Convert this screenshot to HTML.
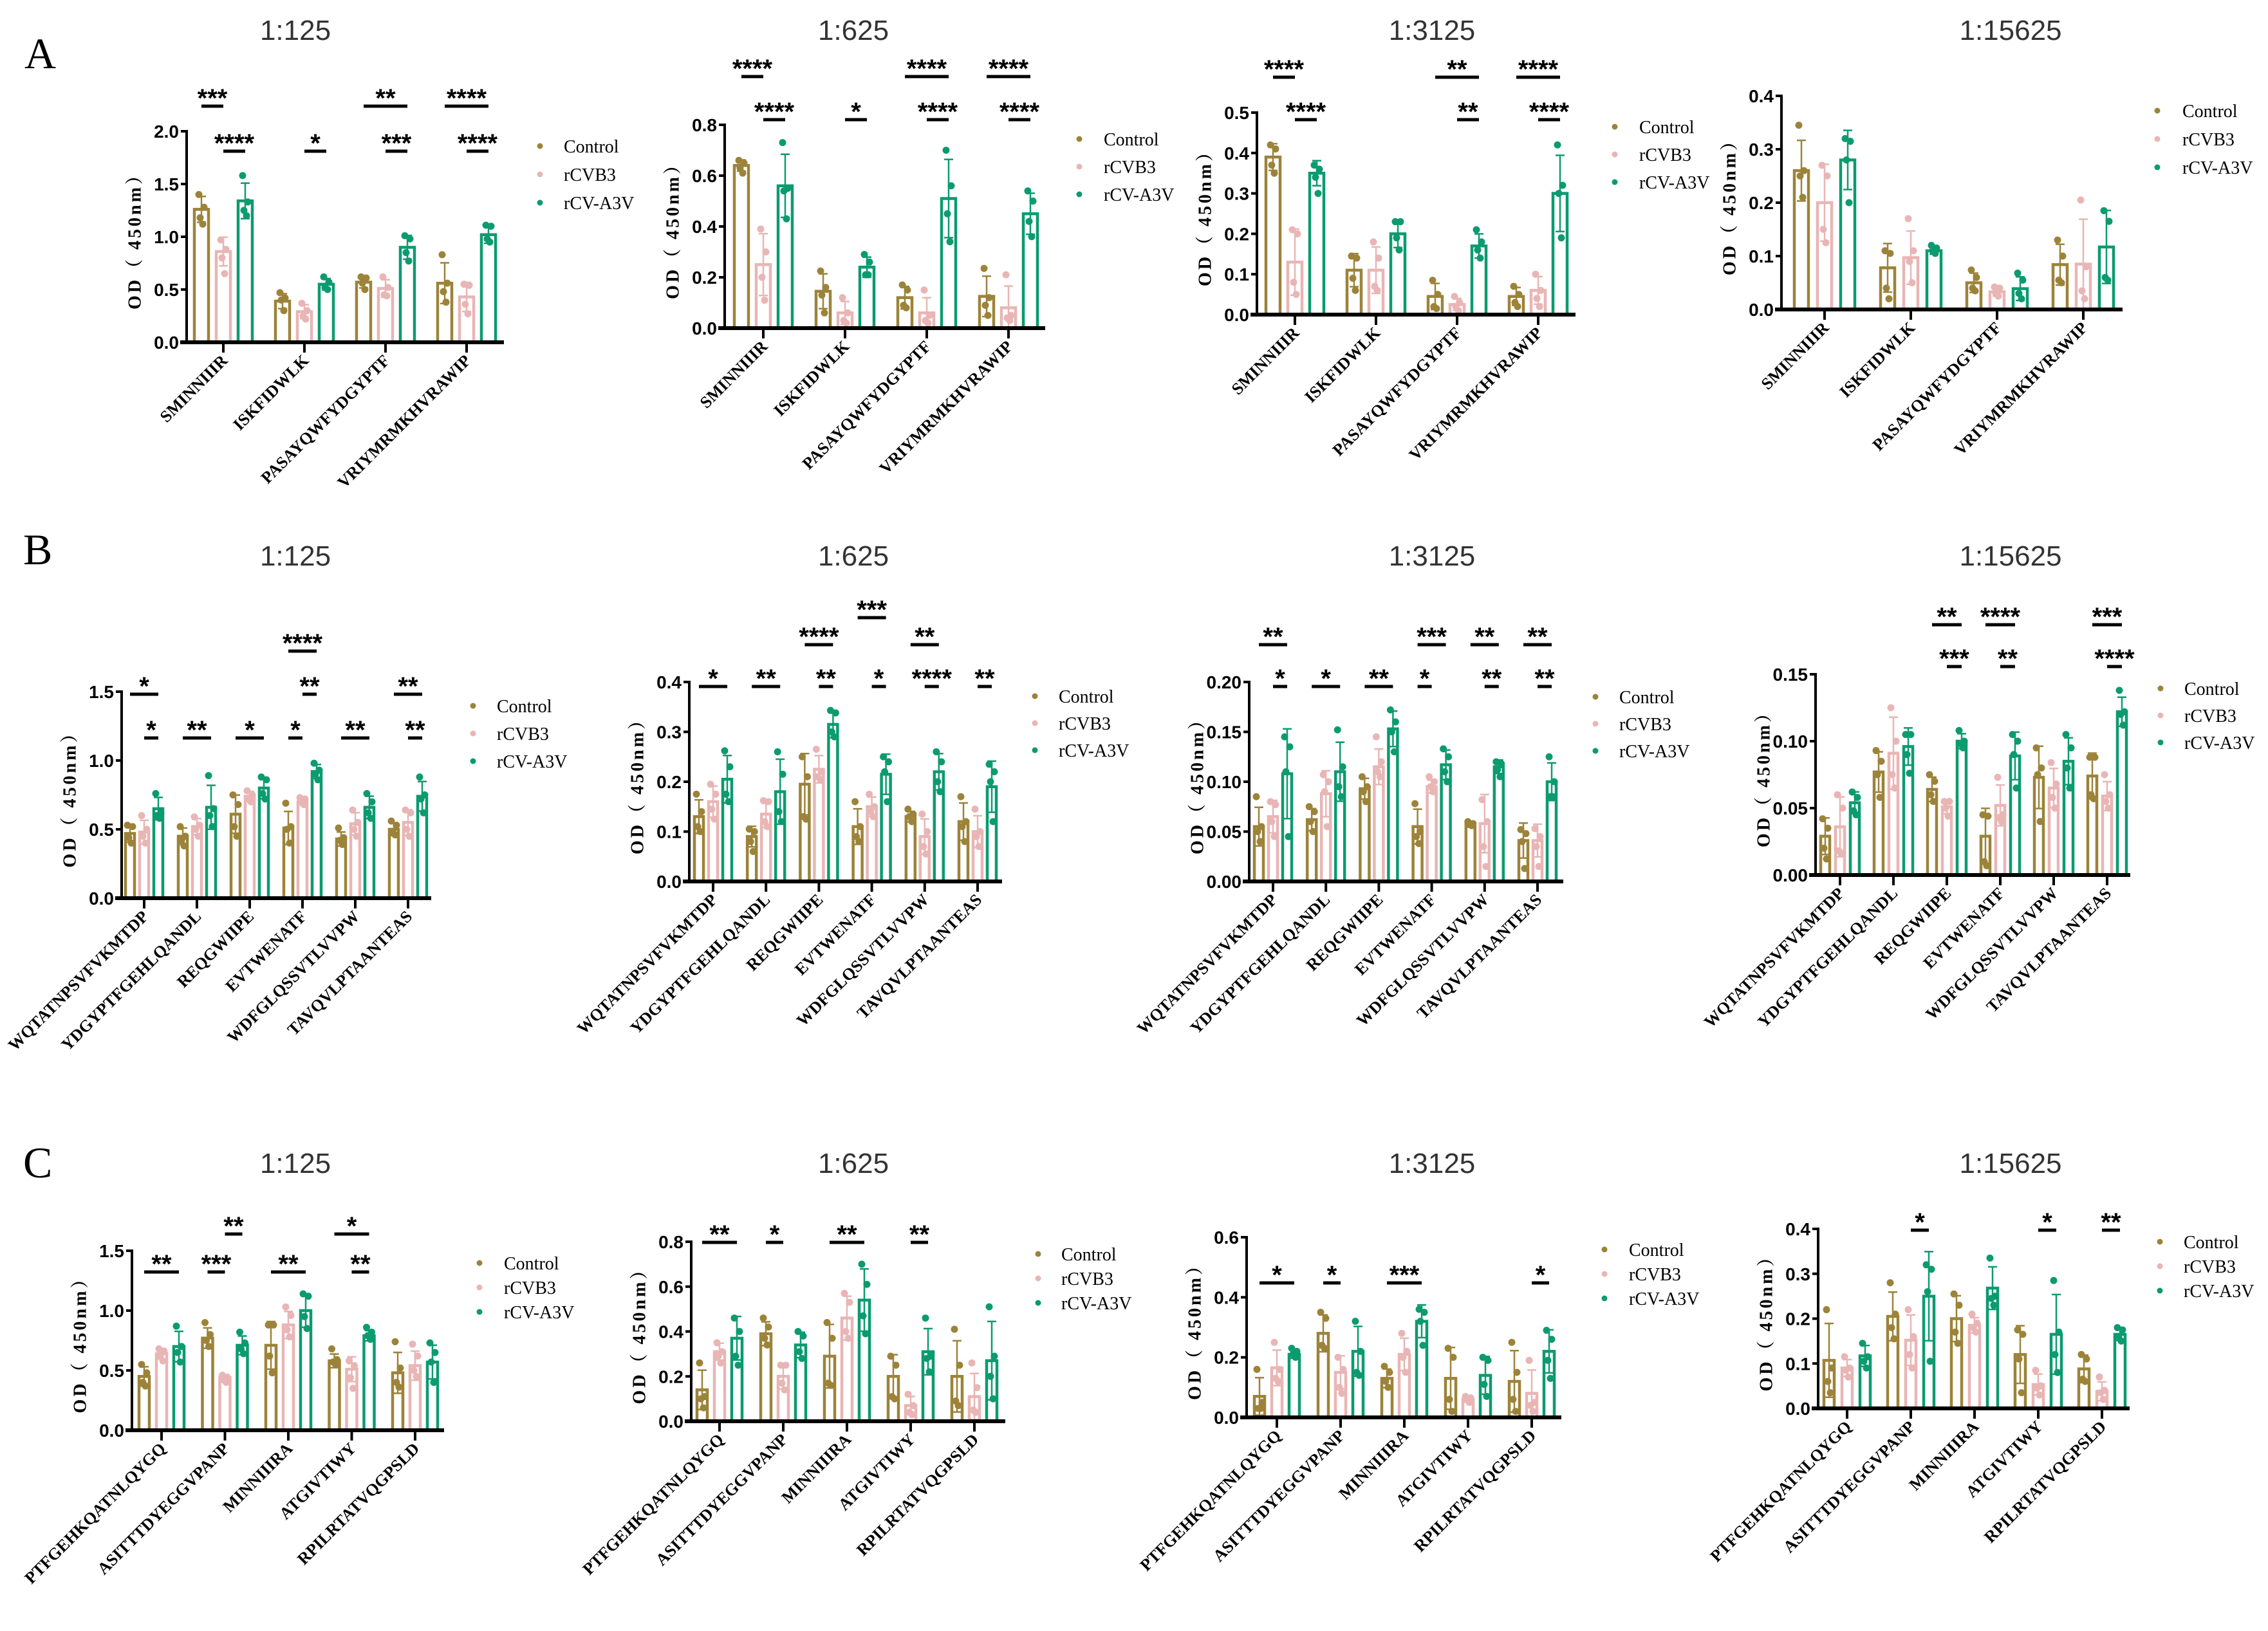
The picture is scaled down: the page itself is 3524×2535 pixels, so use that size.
<!DOCTYPE html>
<html><head><meta charset="utf-8">
<style>
html,body{margin:0;padding:0;background:#fff;}
svg{display:block;}
</style></head>
<body>
<svg id="fig" xmlns="http://www.w3.org/2000/svg" width="3524" height="2535" viewBox="0 0 3524 2535">
<rect x="0" y="0" width="3524" height="2535" fill="#fff"/>
<text x="38" y="106" font-family="Liberation Serif, serif" font-size="68">A</text>
<text x="36" y="877" font-family="Liberation Serif, serif" font-size="68">B</text>
<text x="36" y="1830" font-family="Liberation Serif, serif" font-size="68">C</text>
</svg>
<script>
// ---------- categories ----------
const catsA = ["SMINNIIIR","ISKFIDWLK","PASAYQWFYDGYPTF","VRIYMRMKHVRAWIP"];
const catsB = ["WQTATNPSVFVKMTDP","YDGYPTFGEHLQANDL","REQGWIIPE","EVTWENATF","WDFGLQSSVTLVVPW","TAVQVLPTAANTEAS"];
const catsC = ["PTFGEHKQATNLQYGQ","ASITTTDYEGGVPANP","MINNIIIRA","ATGIVTIWY","RPILRTATVQGPSLD"];
const dilutions = ["1:125","1:625","1:3125","1:15625"];
const seriesNames = ["Control","rCVB3","rCV-A3V"];

// ---------- A1 ----------
const a1Control=[1.26,0.39,0.57,0.56], a1Rcvb3=[0.86,0.29,0.51,0.43], a1A3v=[1.34,0.55,0.90,1.02];
const a1ControlPts=[[1.40,1.28,1.18,1.12],[0.47,0.42,0.40,0.30],[0.62,0.61,0.56,0.50],[0.83,0.56,0.48,0.38]];
const a1Rcvb3Pts=[[0.97,0.88,0.80,0.65],[0.37,0.30,0.25,0.22],[0.62,0.52,0.45,0.44],[0.55,0.54,0.36,0.27]];
const a1A3vPts=[[1.58,1.33,1.25,1.20],[0.62,0.57,0.52,0.50],[1.01,0.98,0.85,0.77],[1.11,1.10,0.98,0.95]];
const a1Ticks=[0,0.5,1.0,1.5,2.0];
const a1Sig=[[0,0,1,0,"***"],[0,1,2,1,"****"],[1,1,2,1,"*"],[2,0,2,0,"**"],[2,1,2,1,"***"],[3,0,2,0,"****"],[3,1,2,1,"****"]];
// ---------- A2 ----------
const a2Control=[0.64,0.145,0.12,0.125], a2Rcvb3=[0.25,0.06,0.06,0.08], a2A3v=[0.56,0.24,0.51,0.45];
const a2ControlPts=[[0.66,0.65,0.63,0.61],[0.225,0.16,0.13,0.06],[0.17,0.15,0.09,0.08],[0.235,0.12,0.09,0.05]];
const a2Rcvb3Pts=[[0.39,0.30,0.20,0.11],[0.12,0.06,0.03,0.02],[0.15,0.05,0.03,0.02],[0.21,0.05,0.04,0.03]];
const a2A3vPts=[[0.73,0.55,0.54,0.43],[0.29,0.26,0.21,0.21],[0.70,0.56,0.45,0.34],[0.54,0.50,0.42,0.36]];
const a2Ticks=[0,0.2,0.4,0.6,0.8];
const a2Sig=[[0,0,1,0,"****"],[0,1,2,1,"****"],[1,1,2,1,"*"],[2,0,2,0,"****"],[2,1,2,1,"****"],[3,0,2,0,"****"],[3,1,2,1,"****"]];
// ---------- A3 ----------
const a3Control=[0.39,0.11,0.045,0.045], a3Rcvb3=[0.13,0.11,0.025,0.06], a3A3v=[0.35,0.20,0.17,0.30];
const a3ControlPts=[[0.42,0.41,0.37,0.35],[0.145,0.14,0.09,0.06],[0.085,0.05,0.02,0.015],[0.07,0.05,0.03,0.02]];
const a3Rcvb3Pts=[[0.21,0.20,0.08,0.05],[0.18,0.14,0.07,0.06],[0.045,0.03,0.02,0.01],[0.10,0.06,0.04,0.02]];
const a3A3vPts=[[0.37,0.36,0.34,0.30],[0.23,0.23,0.19,0.16],[0.21,0.18,0.16,0.14],[0.42,0.32,0.30,0.19]];
const a3Ticks=[0,0.1,0.2,0.3,0.4,0.5];
const a3Sig=[[0,0,1,0,"****"],[0,1,2,1,"****"],[2,0,2,0,"**"],[2,1,2,1,"**"],[3,0,2,0,"****"],[3,1,2,1,"****"]];
// ---------- A4 ----------
const a4Control=[0.26,0.078,0.05,0.084], a4Rcvb3=[0.20,0.097,0.033,0.085], a4A3v=[0.28,0.11,0.039,0.117];
const a4ControlPts=[[0.345,0.26,0.25,0.21],[0.11,0.105,0.04,0.02],[0.074,0.06,0.04,0.035],[0.13,0.10,0.055,0.05]];
const a4Rcvb3Pts=[[0.27,0.25,0.15,0.125],[0.17,0.11,0.09,0.05],[0.042,0.04,0.03,0.025],[0.205,0.08,0.035,0.02]];
const a4A3vPts=[[0.32,0.315,0.28,0.20],[0.12,0.115,0.11,0.105],[0.068,0.055,0.03,0.02],[0.185,0.165,0.06,0.055]];
const a4Ticks=[0,0.1,0.2,0.3,0.4];
const a4Sig=[];
// ---------- B1 ----------
const b1Control=[0.47,0.45,0.61,0.51,0.43,0.50], b1Rcvb3=[0.48,0.52,0.74,0.70,0.54,0.55], b1A3v=[0.65,0.66,0.80,0.92,0.66,0.74];
const b1ControlPts=[[0.53,0.52,0.44,0.40],[0.52,0.45,0.42,0.38],[0.75,0.68,0.52,0.45],[0.69,0.52,0.50,0.40],[0.51,0.44,0.42,0.39],[0.56,0.53,0.48,0.46]];
const b1Rcvb3Pts=[[0.60,0.50,0.45,0.40],[0.59,0.53,0.50,0.45],[0.78,0.75,0.72,0.70],[0.73,0.72,0.70,0.68],[0.64,0.55,0.50,0.45],[0.64,0.62,0.50,0.45]];
const b1A3vPts=[[0.76,0.62,0.60,0.58],[0.89,0.65,0.60,0.52],[0.88,0.86,0.76,0.72],[0.98,0.93,0.90,0.86],[0.76,0.70,0.62,0.58],[0.88,0.75,0.72,0.62]];
const b1Ticks=[0,0.5,1.0,1.5];
const b1Sig=[[3,0,2,0,"****"],[0,0,2,1,"*"],[3,1,2,1,"**"],[5,0,2,1,"**"],[0,1,2,2,"*"],[1,0,2,2,"**"],[2,0,2,2,"*"],[3,0,1,2,"*"],[4,0,2,2,"**"],[5,1,2,2,"**"]];
// ---------- B2 ----------
const b2Control=[0.13,0.09,0.195,0.11,0.13,0.12], b2Rcvb3=[0.16,0.135,0.225,0.15,0.09,0.10], b2A3v=[0.205,0.18,0.315,0.215,0.22,0.19];
const b2ControlPts=[[0.175,0.14,0.11,0.10],[0.105,0.10,0.08,0.06],[0.25,0.21,0.13,0.125],[0.16,0.11,0.09,0.08],[0.145,0.135,0.13,0.12],[0.17,0.12,0.11,0.08]];
const b2Rcvb3Pts=[[0.195,0.175,0.145,0.125],[0.162,0.16,0.12,0.11],[0.265,0.22,0.21,0.205],[0.175,0.15,0.14,0.13],[0.135,0.10,0.07,0.055],[0.145,0.10,0.09,0.07]];
const b2A3vPts=[[0.262,0.23,0.175,0.16],[0.26,0.215,0.14,0.12],[0.343,0.338,0.30,0.29],[0.25,0.24,0.22,0.16],[0.26,0.24,0.20,0.18],[0.235,0.22,0.20,0.12]];
const b2Ticks=[0,0.1,0.2,0.3,0.4];
const b2Sig=[[3,0,2,0,"***"],[2,0,2,1,"****"],[4,0,2,1,"**"],[0,0,2,2,"*"],[1,0,2,2,"**"],[2,1,2,2,"**"],[3,1,2,2,"*"],[4,1,2,2,"****"],[5,1,2,2,"**"]];
// ---------- B3 ----------
const b3Control=[0.055,0.062,0.093,0.055,0.058,0.041], b3Rcvb3=[0.065,0.088,0.115,0.095,0.058,0.041], b3A3v=[0.108,0.11,0.153,0.117,0.115,0.10];
const b3ControlPts=[[0.085,0.055,0.05,0.04],[0.075,0.07,0.06,0.05],[0.105,0.095,0.09,0.08],[0.078,0.05,0.045,0.038],[0.06,0.058,0.057,0.056],[0.052,0.048,0.04,0.013]];
const b3Rcvb3Pts=[[0.08,0.077,0.06,0.045],[0.107,0.10,0.09,0.055],[0.145,0.12,0.11,0.105],[0.105,0.10,0.095,0.09],[0.082,0.06,0.035,0.015],[0.053,0.045,0.035,0.015]];
const b3A3vPts=[[0.145,0.135,0.11,0.045],[0.152,0.115,0.095,0.085],[0.172,0.16,0.15,0.13],[0.133,0.125,0.11,0.10],[0.12,0.118,0.112,0.105],[0.125,0.10,0.085,0.085]];
const b3Ticks=[0,0.05,0.10,0.15,0.20];
const b3Sig=[[0,0,2,0,"**"],[3,0,2,0,"***"],[4,0,2,0,"**"],[5,0,2,0,"**"],[0,1,2,1,"*"],[1,0,2,1,"*"],[2,0,2,1,"**"],[3,0,1,1,"*"],[4,1,2,1,"**"],[5,1,2,1,"**"]];
// ---------- B4 ----------
const b4Control=[0.029,0.077,0.064,0.029,0.073,0.074], b4Rcvb3=[0.036,0.091,0.051,0.052,0.065,0.059], b4A3v=[0.054,0.096,0.10,0.089,0.085,0.122];
const b4ControlPts=[[0.042,0.035,0.02,0.012],[0.093,0.085,0.075,0.058],[0.075,0.07,0.06,0.055],[0.045,0.044,0.01,0.007],[0.095,0.08,0.075,0.04],[0.088,0.088,0.06,0.057]];
const b4Rcvb3Pts=[[0.06,0.05,0.018,0.016],[0.125,0.10,0.075,0.065],[0.055,0.055,0.05,0.044],[0.073,0.045,0.043,0.04],[0.084,0.068,0.058,0.05],[0.075,0.06,0.055,0.05]];
const b4A3vPts=[[0.062,0.058,0.048,0.045],[0.105,0.105,0.09,0.076],[0.108,0.10,0.098,0.095],[0.105,0.10,0.09,0.065],[0.105,0.095,0.08,0.065],[0.138,0.122,0.12,0.112]];
const b4Ticks=[0,0.05,0.10,0.15];
const b4Sig=[[2,0,2,0,"**"],[3,0,2,0,"****"],[5,0,2,0,"***"],[2,1,2,1,"***"],[3,1,2,1,"**"],[5,1,2,1,"****"]];
// ---------- C1 ----------
const c1Control=[0.45,0.77,0.71,0.58,0.48], c1Rcvb3=[0.64,0.44,0.88,0.51,0.54], c1A3v=[0.70,0.71,1.00,0.79,0.57];
const c1ControlPts=[[0.55,0.48,0.40,0.37],[0.90,0.80,0.75,0.70],[0.88,0.88,0.62,0.48],[0.68,0.59,0.57,0.55],[0.74,0.52,0.40,0.36]];
const c1Rcvb3Pts=[[0.68,0.66,0.62,0.58],[0.46,0.44,0.42,0.40],[1.03,0.96,0.84,0.78],[0.58,0.54,0.44,0.35],[0.72,0.62,0.50,0.45]];
const c1A3vPts=[[0.87,0.70,0.65,0.57],[0.82,0.73,0.68,0.64],[1.14,1.12,0.95,0.85],[0.86,0.82,0.79,0.76],[0.73,0.65,0.57,0.40]];
const c1Ticks=[0,0.5,1.0,1.5];
const c1Sig=[[1,1,2,0,"**"],[3,0,2,0,"*"],[0,0,2,1,"**"],[1,0,1,1,"***"],[2,0,2,1,"**"],[3,1,2,1,"**"]];
// ---------- C2 ----------
const c2Control=[0.14,0.39,0.29,0.20,0.20], c2Rcvb3=[0.31,0.20,0.46,0.07,0.11], c2A3v=[0.37,0.34,0.54,0.31,0.27];
const c2ControlPts=[[0.26,0.11,0.10,0.06],[0.46,0.42,0.37,0.34],[0.44,0.37,0.17,0.16],[0.29,0.25,0.11,0.10],[0.41,0.25,0.09,0.07]];
const c2Rcvb3Pts=[[0.35,0.31,0.29,0.26],[0.25,0.25,0.17,0.14],[0.57,0.53,0.40,0.37],[0.12,0.07,0.04,0.03],[0.26,0.15,0.05,0.04]];
const c2A3vPts=[[0.46,0.40,0.29,0.25],[0.40,0.38,0.31,0.28],[0.70,0.61,0.47,0.39],[0.46,0.29,0.28,0.22],[0.51,0.29,0.20,0.10]];
const c2Ticks=[0,0.2,0.4,0.6,0.8];
const c2Sig=[[0,0,2,0,"**"],[1,0,1,0,"*"],[2,0,2,0,"**"],[3,1,2,0,"**"]];
// ---------- C3 ----------
const c3Control=[0.07,0.28,0.13,0.13,0.12], c3Rcvb3=[0.165,0.15,0.21,0.06,0.08], c3A3v=[0.21,0.22,0.32,0.14,0.22];
const c3ControlPts=[[0.16,0.05,0.03,0.03],[0.35,0.33,0.24,0.23],[0.17,0.15,0.12,0.10],[0.23,0.20,0.06,0.02],[0.25,0.15,0.06,0.02]];
const c3Rcvb3Pts=[[0.25,0.16,0.13,0.12],[0.20,0.16,0.10,0.08],[0.28,0.22,0.20,0.15],[0.07,0.065,0.06,0.05],[0.19,0.05,0.04,0.02]];
const c3A3vPts=[[0.23,0.22,0.21,0.20],[0.32,0.22,0.15,0.14],[0.36,0.35,0.32,0.24],[0.20,0.19,0.11,0.07],[0.29,0.26,0.19,0.13]];
const c3Ticks=[0,0.2,0.4,0.6];
const c3Sig=[[0,0,2,0,"*"],[1,0,1,0,"*"],[2,0,2,0,"***"],[4,1,2,0,"*"]];
// ---------- C4 ----------
const c4Control=[0.107,0.205,0.20,0.12,0.088], c4Rcvb3=[0.09,0.152,0.185,0.053,0.038], c4A3v=[0.117,0.25,0.268,0.165,0.165];
const c4ControlPts=[[0.22,0.09,0.06,0.035],[0.28,0.21,0.18,0.155],[0.255,0.23,0.17,0.145],[0.175,0.165,0.11,0.035],[0.12,0.11,0.065,0.06]];
const c4Rcvb3Pts=[[0.115,0.09,0.085,0.07],[0.22,0.16,0.12,0.09],[0.21,0.19,0.18,0.17],[0.085,0.05,0.045,0.03],[0.07,0.04,0.035,0.02]];
const c4A3vPts=[[0.145,0.115,0.105,0.09],[0.32,0.31,0.26,0.105],[0.335,0.25,0.245,0.23],[0.285,0.17,0.12,0.08],[0.18,0.175,0.16,0.15]];
const c4Ticks=[0,0.1,0.2,0.3,0.4];
const c4Sig=[[1,1,2,0,"*"],[3,1,2,0,"*"],[4,1,2,0,"**"]];

// ---------- layout (pixel geometry, not data) ----------
const COLORS=["#9c8339","#e9b5b5","#0b9b6f"];
const svg=document.getElementById('fig');
const NS="http://www.w3.org/2000/svg";
function mk(tag,attrs,parent){const e=document.createElementNS(NS,tag);for(const k in attrs)e.setAttribute(k,attrs[k]);(parent||svg).appendChild(e);return e;}
function sd(a){const m=a.reduce((s,v)=>s+v,0)/a.length;return Math.sqrt(a.reduce((s,v)=>s+(v-m)*(v-m),0)/(a.length-1));}

const TX=[459,1326,2225,3124];
const panels=[
 {id:"a1",cats:catsA,means:[a1Control,a1Rcvb3,a1A3v],pts:[a1ControlPts,a1Rcvb3Pts,a1A3vPts],ticks:a1Ticks,sig:a1Sig,dec:1,title:dilutions[0],
  ax:290,yTop:204,y0:532,xEnd:783,gx0:347,gs:126,off:34,bw:22,rows:[165,235],leg:[839,876,227,44],tx:TX[0],ty:62},
 {id:"a2",cats:catsA,means:[a2Control,a2Rcvb3,a2A3v],pts:[a2ControlPts,a2Rcvb3Pts,a2A3vPts],ticks:a2Ticks,sig:a2Sig,dec:1,title:dilutions[1],
  ax:1126,yTop:194,y0:510,xEnd:1624,gx0:1186,gs:127,off:34,bw:22,rows:[119,186],leg:[1677,1715,216,43],tx:TX[1],ty:62},
 {id:"a3",cats:catsA,means:[a3Control,a3Rcvb3,a3A3v],pts:[a3ControlPts,a3Rcvb3Pts,a3A3vPts],ticks:a3Ticks,sig:a3Sig,dec:1,title:dilutions[2],
  ax:1953,yTop:175,y0:489,xEnd:2448,gx0:2012,gs:126,off:34,bw:22,rows:[120,186],leg:[2509,2547,197,43],tx:TX[2],ty:62},
 {id:"a4",cats:catsA,means:[a4Control,a4Rcvb3,a4A3v],pts:[a4ControlPts,a4Rcvb3Pts,a4A3vPts],ticks:a4Ticks,sig:a4Sig,dec:1,title:dilutions[3],
  ax:2768,yTop:149,y0:481,xEnd:3298,gx0:2835,gs:134,off:36,bw:22,rows:[],leg:[3352,3391,172,44],tx:TX[3],ty:62},
 {id:"b1",cats:catsB,means:[b1Control,b1Rcvb3,b1A3v],pts:[b1ControlPts,b1Rcvb3Pts,b1A3vPts],ticks:b1Ticks,sig:b1Sig,dec:1,title:dilutions[0],
  ax:189,yTop:1075,y0:1396,xEnd:670,gx0:224,gs:82,off:22,bw:14,rows:[1012,1079,1147],leg:[735,772,1097,43],tx:TX[0],ty:879},
 {id:"b2",cats:catsB,means:[b2Control,b2Rcvb3,b2A3v],pts:[b2ControlPts,b2Rcvb3Pts,b2A3vPts],ticks:b2Ticks,sig:b2Sig,dec:1,title:dilutions[1],
  ax:1071,yTop:1060,y0:1370,xEnd:1557,gx0:1108,gs:82.2,off:22,bw:14,rows:[960,1002,1067],leg:[1608,1645,1082,42],tx:TX[1],ty:879},
 {id:"b3",cats:catsB,means:[b3Control,b3Rcvb3,b3A3v],pts:[b3ControlPts,b3Rcvb3Pts,b3A3vPts],ticks:b3Ticks,sig:b3Sig,dec:2,title:dilutions[2],
  ax:1941,yTop:1060,y0:1370,xEnd:2429,gx0:1978,gs:82.2,off:22,bw:14,rows:[1002,1067],leg:[2479,2516,1083,42],tx:TX[2],ty:879},
 {id:"b4",cats:catsB,means:[b4Control,b4Rcvb3,b4A3v],pts:[b4ControlPts,b4Rcvb3Pts,b4A3vPts],ticks:b4Ticks,sig:b4Sig,dec:2,title:dilutions[3],
  ax:2821,yTop:1048,y0:1360,xEnd:3310,gx0:2859,gs:83,off:23,bw:14,rows:[971,1036],leg:[3357,3394,1070,42],tx:TX[3],ty:879},
 {id:"c1",cats:catsC,means:[c1Control,c1Rcvb3,c1A3v],pts:[c1ControlPts,c1Rcvb3Pts,c1A3vPts],ticks:c1Ticks,sig:c1Sig,dec:1,title:dilutions[0],
  ax:205,yTop:1944,y0:2223,xEnd:690,gx0:251,gs:98.5,off:27,bw:16,rows:[1918,1977],leg:[745,783,1963,38],tx:TX[0],ty:1823},
 {id:"c2",cats:catsC,means:[c2Control,c2Rcvb3,c2A3v],pts:[c2ControlPts,c2Rcvb3Pts,c2A3vPts],ticks:c2Ticks,sig:c2Sig,dec:1,title:dilutions[1],
  ax:1074,yTop:1930,y0:2209,xEnd:1562,gx0:1118,gs:99,off:27,bw:16,rows:[1931],leg:[1613,1649,1949,38],tx:TX[1],ty:1823},
 {id:"c3",cats:catsC,means:[c3Control,c3Rcvb3,c3A3v],pts:[c3ControlPts,c3Rcvb3Pts,c3A3vPts],ticks:c3Ticks,sig:c3Sig,dec:1,title:dilutions[2],
  ax:1937,yTop:1923,y0:2203,xEnd:2426,gx0:1984,gs:99,off:27,bw:16,rows:[1994],leg:[2493,2531,1942,38],tx:TX[2],ty:1823},
 {id:"c4",cats:catsC,means:[c4Control,c4Rcvb3,c4A3v],pts:[c4ControlPts,c4Rcvb3Pts,c4A3vPts],ticks:c4Ticks,sig:c4Sig,dec:1,title:dilutions[3],
  ax:2825,yTop:1910,y0:2189,xEnd:3309,gx0:2870,gs:99,off:28,bw:16,rows:[1912],leg:[3356,3393,1930,38],tx:TX[3],ty:1823}
];

panels.forEach(p=>{
  const g=mk('g',{});
  
  
  const yMax=p.ticks[p.ticks.length-1];
  const Y=v=>p.y0-v/yMax*(p.y0-p.yTop);
  const GX=i=>p.gx0+i*p.gs;
  const BX=(i,s)=>GX(i)+(s-1)*p.off;
  const t=mk('text',{x:p.tx,y:p.ty,'text-anchor':'middle','font-family':'Liberation Sans, sans-serif','font-size':44,fill:'#333'},g);
  t.textContent=p.title;
  
  
  for(let s=0;s<3;s++){
    p.cats.forEach((c,i)=>{
      const m=p.means[s][i], pts=p.pts[s][i], e=sd(pts);
      const x=BX(i,s);
      const bar=mk('rect',{x:x-p.bw/2,y:Y(m),width:p.bw,height:p.y0-Y(m),fill:'#fff',stroke:COLORS[s],'stroke-width':4.5},g);
      
      
      const eb=mk('path',{d:`M${x} ${Y(m-e)}V${Y(m+e)}M${x-7} ${Y(m+e)}H${x+7}M${x-7} ${Y(m-e)}H${x+7}`,stroke:COLORS[s],'stroke-width':2.5,fill:'none'},g);
      
      
      pts.forEach((v,k)=>{
        const dot=mk('circle',{cx:x+((k%2)?4:-4)*(k>1?0.5:1),cy:Y(v),r:5.5,fill:COLORS[s]},g);
        
        
      });
    });
  }
  const ya=mk('line',{x1:p.ax,y1:p.yTop-2,x2:p.ax,y2:p.y0,stroke:'#000','stroke-width':4},g);
  
  
  const xa=mk('line',{x1:p.ax-10,y1:p.y0,x2:p.xEnd,y2:p.y0,stroke:'#000','stroke-width':6},g);
  
  
  p.ticks.forEach(v=>{
    mk('line',{x1:p.ax-9,y1:Y(v),x2:p.ax,y2:Y(v),stroke:'#000','stroke-width':4},g);
    const tl=mk('text',{x:p.ax-12,y:Y(v)+10,'text-anchor':'end','font-family':'Liberation Sans Narrow, Liberation Sans, sans-serif','font-weight':'bold','font-size':28,fill:'#000'},g);
    tl.textContent=v.toFixed(p.dec);
    
    
  });
  p.cats.forEach((c,i)=>{
    mk('line',{x1:GX(i),y1:p.y0,x2:GX(i),y2:p.y0+16,stroke:'#000','stroke-width':4},g);
    const xl=mk('text',{x:GX(i)+8,y:p.y0+30,'text-anchor':'end','font-family':'Liberation Serif, serif','font-weight':'bold','font-size':26,transform:`rotate(-45 ${GX(i)+8} ${p.y0+30})`,fill:'#000'},g);
    xl.textContent=c;
    
    
  });
  const yc=(p.yTop+p.y0)/2, yx=p.ax-80;
  const yt=mk('text',{x:yx,y:yc,'text-anchor':'middle','dominant-baseline':'central','font-family':'Liberation Serif, "Noto Serif CJK SC", serif','font-weight':'bold','font-size':28,'letter-spacing':4,transform:`rotate(-90 ${yx} ${yc})`,fill:'#000'},g);
  yt.textContent='OD（ 450nm）';
  
  
  p.sig.forEach(sg=>{
    const [gi,a,b,row,lab]=sg;
    const x1=BX(gi,a), x2=BX(gi,b), ly=p.rows[row];
    const ln=mk('line',{x1:x1,y1:ly,x2:x2,y2:ly,stroke:'#000','stroke-width':5},g);
    
    
    const st=mk('text',{x:(x1+x2)/2,y:ly+1,'text-anchor':'middle','font-family':'Liberation Sans, sans-serif','font-weight':'bold','font-size':40,fill:'#000'},g);
    st.textContent=lab;
    
    
  });
  const [dx,tx,ly,gap]=p.leg;
  seriesNames.forEach((n,s)=>{
    const d=mk('circle',{cx:dx,cy:ly+s*gap,r:4.5,fill:COLORS[s]},g);
    
    
    const lt=mk('text',{x:tx,y:ly+s*gap+10,'font-family':'Liberation Serif, serif','font-size':28,fill:'#000'},g);
    lt.textContent=n;
    
    
  });
});
</script>
</body></html>
